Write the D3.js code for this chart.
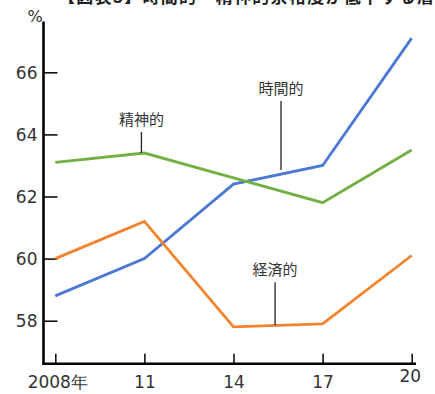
<!DOCTYPE html>
<html>
<head>
<meta charset="utf-8">
<script src="https://cdn.jsdelivr.net/npm/d3@7"></script>
<style>
  html, body { margin: 0; padding: 0; background: #fff; }
  svg { display: block; }
</style>
</head>
<body>
<svg id="chart" width="435" height="394"></svg>
<script>
// Survey years and the share (%) answering each kind of leeway
const years = [2008, 2011, 2014, 2017, 2020];
const yearLabels = ["2008年", "11", "14", "17", "20"];
const timeValues = [58.8, 60.0, 62.4, 63.0, 67.1];      // 時間的
const mentalValues = [63.1, 63.4, 62.6, 61.8, 63.5];    // 精神的
const economicValues = [60.0, 61.2, 57.8, 57.9, 60.1];  // 経済的
const yTicks = [58, 60, 62, 64, 66];

const series = [
  { name: "時間的", values: timeValues, color: "#4a78d3", labelYear: 2015.6, labelAt: 62.85, labelDy: -69 },
  { name: "精神的", values: mentalValues, color: "#72b044", labelYear: 2010.9, labelAt: 63.4, labelDy: -21 },
  { name: "経済的", values: economicValues, color: "#f2832f", labelYear: 2015.4, labelAt: 57.85, labelDy: -43 }
];

const svg = d3.select("#chart");
const jp = "'Noto Sans CJK JP', 'Noto Sans', sans-serif";
const num = "'DejaVu Sans', Verdana, sans-serif";

const x = d3.scaleLinear().domain([2008, 2020]).range([55.3, 411.7]);
const y = d3.scaleLinear().domain([58, 66]).range([320.7, 72.3]);

const axisLeftX = 43.5, axisBottomY = 363.7, axisTopY = 21.5, axisRightX = 416;

// Heading, running off the top edge of the page
svg.append("text")
  .attr("x", 58).attr("y", 3)
  .attr("font-family", jp).attr("font-size", 17).attr("font-weight", 700)
  .attr("fill", "#222")
  .attr("textLength", 376).attr("lengthAdjust", "spacing")
  .text("【図表3】時間的・精神的余裕度が低下する層");

// Y axis: ticks point into the plot, labels sit left of the line
const yAxis = d3.axisRight(y).tickValues(yTicks).tickSize(14).tickPadding(0).tickFormat(d3.format("d"));
const gy = svg.append("g").attr("transform", `translate(${axisLeftX},0)`).call(yAxis);
gy.select(".domain").remove();
gy.selectAll(".tick line").attr("stroke", "#111").attr("stroke-width", 1.6);
gy.selectAll(".tick text")
  .attr("x", -6).attr("dy", "0.35em").attr("text-anchor", "end")
  .attr("font-family", num).attr("font-size", 17).attr("fill", "#333");

// X axis: short upward ticks, labels below
const xAxis = d3.axisBottom(x).tickValues(years).tickSize(-10).tickPadding(0)
  .tickFormat((d, i) => yearLabels[i]);
const gx = svg.append("g").attr("transform", `translate(0,${axisBottomY})`).call(xAxis);
gx.select(".domain").remove();
gx.selectAll(".tick line").attr("stroke", "#111").attr("stroke-width", 1.6);
gx.selectAll(".tick text")
  .attr("y", 24).attr("dy", 0)
  .attr("font-family", num).attr("font-size", 17).attr("fill", "#333");
gx.selectAll(".tick text").filter((d, i) => i === 0).attr("dx", 2);
gx.selectAll(".tick text").filter((d, i) => i === years.length - 1).attr("y", 18).attr("dx", -2);

// Axis lines
svg.append("path")
  .attr("d", `M${axisLeftX},${axisTopY}V${axisBottomY}H${axisRightX}`)
  .attr("fill", "none").attr("stroke", "#000").attr("stroke-width", 2.6);

svg.append("text")
  .attr("x", 35).attr("y", 22)
  .attr("text-anchor", "middle")
  .attr("font-family", num).attr("font-size", 16).attr("fill", "#333")
  .text("%");

// Lines
const line = d3.line().x((d, i) => x(years[i])).y(d => y(d));
series.forEach(s => {
  svg.append("path")
    .datum(s.values)
    .attr("d", line)
    .attr("fill", "none")
    .attr("stroke", s.color)
    .attr("stroke-width", 2.8)
    .attr("stroke-linejoin", "miter");
});

// Series labels with leader lines
series.forEach(s => {
  const lx = x(s.labelYear), ly = y(s.labelAt);
  svg.append("line")
    .attr("x1", lx).attr("x2", lx)
    .attr("y1", ly).attr("y2", ly + s.labelDy)
    .attr("stroke", "#222").attr("stroke-width", 1.3);
  svg.append("text")
    .attr("x", lx).attr("y", ly + s.labelDy - 7)
    .attr("text-anchor", "middle")
    .attr("font-family", jp).attr("font-size", 15).attr("fill", "#333")
    .text(s.name);
});
</script>
</body>
</html>
